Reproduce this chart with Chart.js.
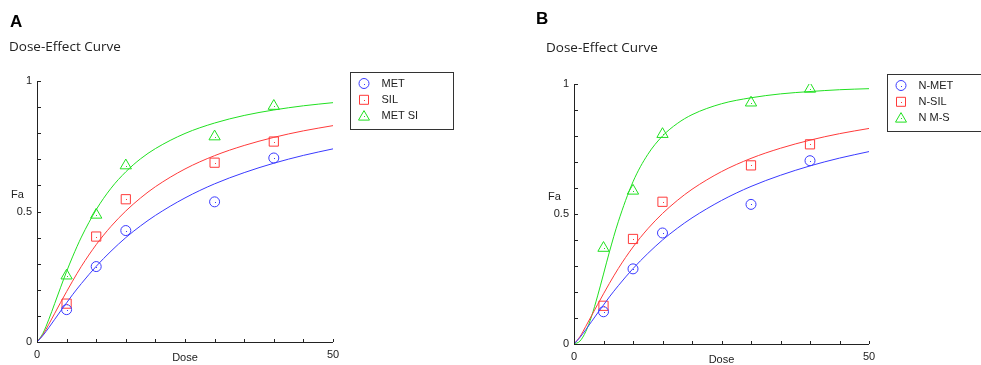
<!DOCTYPE html>
<html>
<head>
<meta charset="utf-8">
<script src="https://cdn.jsdelivr.net/npm/chart.js@4"></script>
<style>
  html, body { margin: 0; padding: 0; background: #fff; }
  body { width: 981px; height: 365px; position: relative; overflow: hidden; }
  canvas { position: absolute; top: 0; }
  #chartA { left: 0; }
  #chartB { left: 490px; }
</style>
</head>
<body>
<canvas id="chartA" width="490" height="365"></canvas>
<canvas id="chartB" width="491" height="365"></canvas>
<script>
'use strict';

// measured doses (same in both panels)
const doses = [5, 10, 15, 30, 40];
const metFa = [0.124, 0.289, 0.427, 0.537, 0.705];
const silFa = [0.147, 0.404, 0.547, 0.687, 0.768];
const metSiFa = [0.254, 0.487, 0.676, 0.787, 0.904];
const nmsFa = [0.369, 0.589, 0.807, 0.928, 0.981];

// fitted curves
const curveDose = [0, 1, 2, 3, 4, 5, 6, 7.5, 10, 12.5, 15, 17.5, 20, 25, 30, 35, 40, 45, 50];
const metCurve = [0, 0.025, 0.055, 0.087, 0.119, 0.150, 0.181, 0.224, 0.290, 0.348, 0.400, 0.445, 0.485, 0.552, 0.606, 0.649, 0.685, 0.715, 0.740];
const silCurve = [0, 0.028, 0.068, 0.110, 0.152, 0.193, 0.233, 0.290, 0.373, 0.443, 0.502, 0.552, 0.595, 0.663, 0.714, 0.753, 0.784, 0.809, 0.829];
const metSiCurve = [0, 0.033, 0.087, 0.148, 0.210, 0.270, 0.326, 0.402, 0.507, 0.589, 0.652, 0.702, 0.741, 0.799, 0.839, 0.868, 0.889, 0.905, 0.917];
const nmsCurve = [0, 0.011, 0.048, 0.108, 0.185, 0.269, 0.354, 0.470, 0.624, 0.729, 0.800, 0.848, 0.882, 0.924, 0.947, 0.962, 0.971, 0.978, 0.982];

const xTickLabels = [0, 50];
const yTickLabels = [0, 0.5, 1];

const BLUE = "#3a3aff";
const RED = "#ff3a3a";
const GREEN = "#20e020";
const FONT = "'Liberation Sans', Arial, sans-serif";

const panels = [
  {
    id: "chartA",
    letter: "A", letterX: 10, letterY: 27,
    title: "Dose-Effect Curve", titleX: 9, titleY: 51,
    area: { left: 37, right: 333, top: 81, bottom: 342 },
    legendBox: { x: 350.5, y: 72.5, w: 103, h: 57 },
    series: [
      { label: "MET", points: metFa, curve: metCurve, color: BLUE, style: "circle" },
      { label: "SIL", points: silFa, curve: silCurve, color: RED, style: "rect" },
      { label: "MET SI", points: metSiFa, curve: metSiCurve, color: GREEN, style: "triangle" },
    ],
  },
  {
    id: "chartB",
    letter: "B", letterX: 46, letterY: 24,
    title: "Dose-Effect Curve", titleX: 56, titleY: 52,
    area: { left: 84, right: 379, top: 84, bottom: 344 },
    legendBox: { x: 397.5, y: 74.5, w: 103, h: 57 },
    series: [
      { label: "N-MET", points: metFa, curve: metCurve, color: BLUE, style: "circle" },
      { label: "N-SIL", points: silFa, curve: silCurve, color: RED, style: "rect" },
      { label: "N M-S", points: nmsFa, curve: nmsCurve, color: GREEN, style: "triangle" },
    ],
  },
];

const markerRadius = { circle: 5, rect: 6.5, triangle: 6.5 };

const nearly = (v, list) => list.some((t) => Math.abs(v - t) < 1e-6);

const drawMarker = (ctx, style, x, y, color) => {
  ctx.strokeStyle = color;
  ctx.lineWidth = 1;
  ctx.beginPath();
  if (style === "circle") {
    ctx.arc(x, y, 5, 0, Math.PI * 2);
  } else if (style === "rect") {
    ctx.rect(x - 4.5, y - 4.5, 9, 9);
  } else {
    ctx.moveTo(x, y - 5.5);
    ctx.lineTo(x + 5.5, y + 4);
    ctx.lineTo(x - 5.5, y + 4);
    ctx.closePath();
  }
  ctx.stroke();
  ctx.fillStyle = color;
  ctx.fillRect(Math.round(x), Math.round(y), 1, 1);
};

// axes, inward ticks, labels, legend box
const decorPlugin = {
  id: "decor",
  afterDraw(chart, args, opts) {
    const { ctx, chartArea: a, scales } = chart;
    const x = scales.x;
    const y = scales.y;
    ctx.save();

    ctx.strokeStyle = "#222";
    ctx.lineWidth = 1;
    ctx.beginPath();
    ctx.moveTo(a.left + 0.5, a.top);
    ctx.lineTo(a.left + 0.5, a.bottom + 0.5);
    ctx.lineTo(a.right, a.bottom + 0.5);
    ctx.stroke();

    ctx.beginPath();
    x.ticks.forEach((t) => {
      const px = Math.round(x.getPixelForValue(t.value)) + 0.5;
      ctx.moveTo(px, a.bottom);
      ctx.lineTo(px, a.bottom - 3);
    });
    y.ticks.forEach((t) => {
      const py = Math.round(y.getPixelForValue(t.value)) + 0.5;
      ctx.moveTo(a.left, py);
      ctx.lineTo(a.left + 4, py);
    });
    ctx.stroke();

    // small dot inside each marker, like the original
    chart.data.datasets.forEach((ds, i) => {
      if (!ds.isMarker) return;
      chart.getDatasetMeta(i).data.forEach((pt) => {
        ctx.fillStyle = ds.borderColor;
        ctx.fillRect(Math.round(pt.x), Math.round(pt.y), 1, 1);
      });
    });

    ctx.fillStyle = "#000";
    ctx.textBaseline = "alphabetic";
    ctx.textAlign = "left";
    ctx.font = `bold 17px ${FONT}`;
    ctx.fillText(opts.letter, opts.letterX, opts.letterY);
    ctx.fillStyle = "#222";
    ctx.font = "13.5px 'Open Sans', sans-serif";
    ctx.fillText(opts.title, opts.titleX, opts.titleY);

    ctx.font = `11px ${FONT}`;
    ctx.fillStyle = "#222";
    ctx.textBaseline = "middle";
    ctx.fillText("Fa", a.left - 26, y.getPixelForValue(0.5) - 17);
    ctx.textAlign = "center";
    ctx.fillText("Dose", (a.left + a.right) / 2, a.bottom + 16);

    const b = opts.legendBox;
    ctx.strokeStyle = "#333";
    ctx.strokeRect(b.x, b.y, b.w, b.h);
    ctx.textAlign = "left";
    opts.series.forEach((s, i) => {
      const ry = b.y + 11 + i * 16.3;
      drawMarker(ctx, s.style, b.x + 13.5, ry, s.color);
      ctx.fillStyle = "#222";
      ctx.fillText(s.label, b.x + 31, ry);
    });

    ctx.restore();
  },
};

const createChart = (panel) => {
  const canvas = document.getElementById(panel.id);
  const datasets = [];

  panel.series.forEach((s) => {
    datasets.push({
      type: "line",
      label: s.label + " fit",
      data: curveDose.map((d, i) => ({ x: d, y: s.curve[i] })),
      borderColor: s.color,
      borderWidth: 1,
      pointRadius: 0,
      cubicInterpolationMode: "monotone",
      fill: false,
    });
    datasets.push({
      type: "scatter",
      label: s.label,
      isMarker: true,
      data: doses.map((d, i) => ({ x: d, y: s.points[i] })),
      borderColor: s.color,
      backgroundColor: "rgba(0,0,0,0)",
      borderWidth: 1,
      pointStyle: s.style,
      pointRadius: markerRadius[s.style],
    });
  });

  return new Chart(canvas, {
    data: { datasets },
    options: {
      responsive: false,
      animation: false,
      events: [],
      layout: {
        padding: {
          left: 0,
          top: panel.area.top,
          right: canvas.width - panel.area.right,
          bottom: 0,
        },
      },
      scales: {
        x: {
          type: "linear",
          min: 0,
          max: 50,
          afterFit: (scale) => { scale.height = 365 - panel.area.bottom; },
          grid: { display: false, drawTicks: false },
          border: { display: false },
          ticks: {
            stepSize: 5,
            autoSkip: false,
            maxRotation: 0,
            padding: 6,
            color: "#222",
            font: { family: FONT, size: 11 },
            callback: (v) => (nearly(v, xTickLabels) ? String(v) : ""),
          },
        },
        y: {
          type: "linear",
          min: 0,
          max: 1,
          afterFit: (scale) => { scale.width = panel.area.left; },
          grid: { display: false, drawTicks: false },
          border: { display: false },
          ticks: {
            stepSize: 0.1,
            autoSkip: false,
            padding: 5,
            color: "#222",
            font: { family: FONT, size: 11 },
            callback: (v) => (nearly(v, yTickLabels) ? String(Math.round(v * 10) / 10) : ""),
          },
        },
      },
      plugins: {
        legend: { display: false },
        tooltip: { enabled: false },
        decor: panel,
      },
    },
    plugins: [decorPlugin],
  });
};

panels.forEach((p) => createChart(p));
</script>
</body>
</html>
